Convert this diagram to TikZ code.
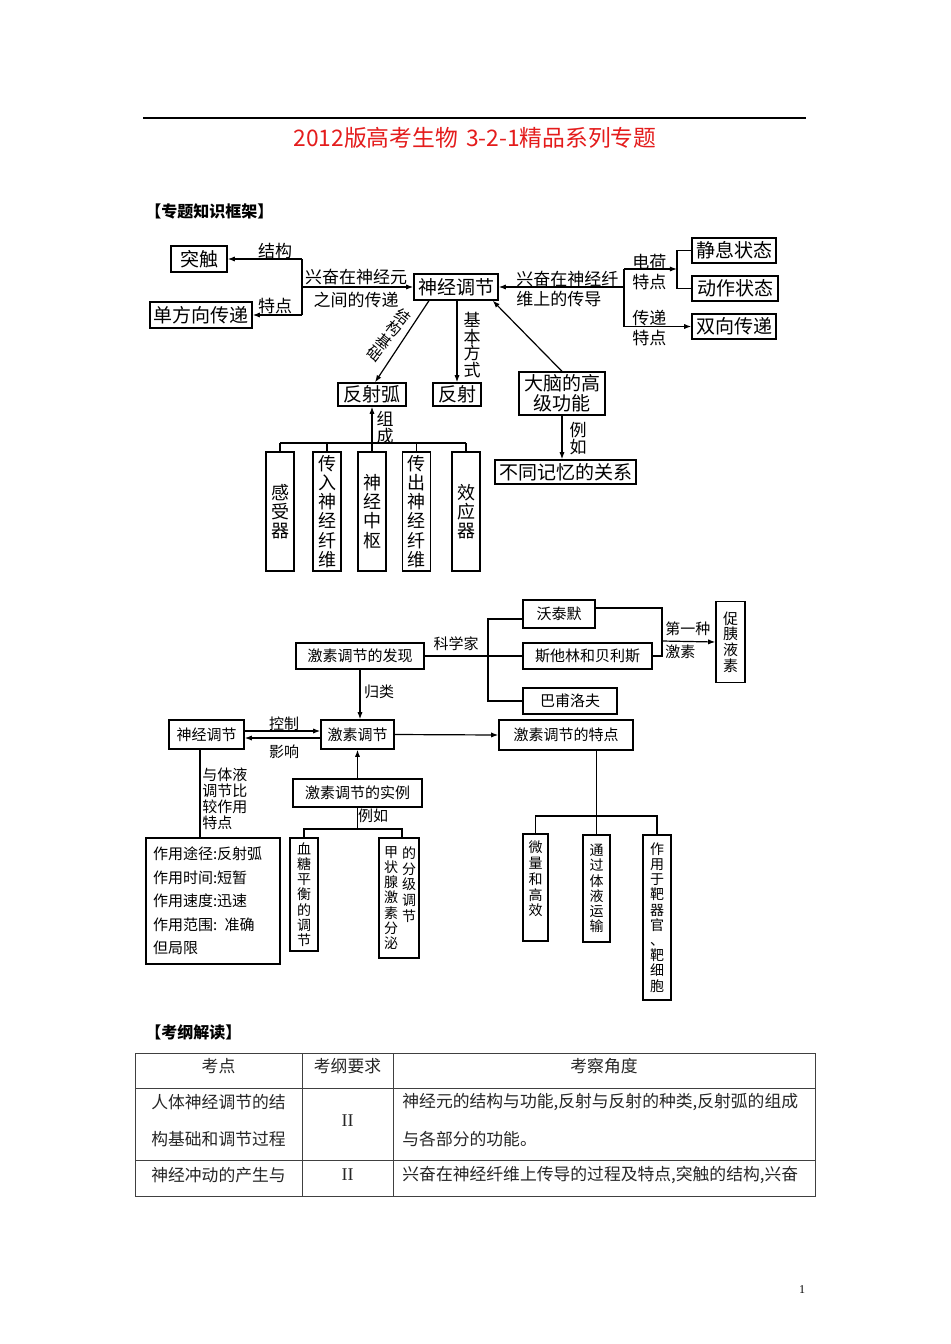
\documentclass[tikz,border=0pt]{standalone}
\usepackage{fontspec}
\setmainfont{Noto Sans CJK SC}
\newfontfamily\enserif{Liberation Serif}
\usetikzlibrary{arrows.meta}
\definecolor{titlered}{RGB}{228,28,28}
\tikzset{
  box/.style={draw, line width=0.65pt, inner sep=0pt, align=center},
  lbl/.style={inner sep=0pt, align=center},
  ln/.style={line width=0.6pt},
  arr/.style={line width=0.6pt, -{Latex[length=3.6pt,width=2.6pt]}},
  fa/.style={font=\fontsize{9.5pt}{10pt}\selectfont},
  fb/.style={font=\fontsize{8.5pt}{10pt}\selectfont},
  fv/.style={font=\fontsize{9pt}{9.6pt}\selectfont},
  fc/.style={font=\fontsize{7.5pt}{8pt}\selectfont},
  fcv/.style={font=\fontsize{7pt}{7.6pt}\selectfont},
  tt/.style={inner sep=0pt, font=\fontsize{8.4pt}{9pt}\selectfont, text=black!85},
  tl/.style={line width=0.5pt, draw=black!75},
}
\begin{document}
\begin{tikzpicture}[x=0.5pt,y=-0.5pt]
\useasboundingbox (0,0) rectangle (950,1344);
\fill[white] (0,0) rectangle (950,1344);

% header
\draw[line width=0.7pt] (143,118) -- (806,118);
\node[lbl, text=titlered, font=\fontsize{11.4pt}{13pt}\selectfont] (title) at (475,138) {2012版高考生物\hspace{0.35em}3-2-1精品系列专题};
\node[lbl, anchor=west, font=\bfseries\fontsize{8pt}{9pt}\selectfont] (head1) at (145,211) {【专题知识框架】};

% ===== top diagram =====
\node[box,fa,minimum width=28pt,minimum height=13pt] (tuchu) at (199,259) {突触};
\node[box,fa,minimum width=51pt,minimum height=13pt] (danfx) at (201,315) {单方向传递};
\node[box,fa,minimum width=42pt,minimum height=13pt] (sjtj) at (456,287) {神经调节};
\node[box,fa,minimum width=42pt,minimum height=12.5pt] (jingxi) at (734,250.5) {静息状态};
\node[box,fa,minimum width=43pt,minimum height=12.5pt] (dongzuo) at (735,288.5) {动作状态};
\node[box,fa,minimum width=42pt,minimum height=12.5pt] (shuangx) at (734,326.5) {双向传递};
\node[box,fa,minimum width=34pt,minimum height=11.5pt] (fsh) at (372,394.5) {反射弧};
\node[box,fa,minimum width=24pt,minimum height=11.5pt] (fs) at (457,394.5) {反射};
\node[box,minimum width=43pt,minimum height=21.5pt,font=\fontsize{9.5pt}{10pt}\selectfont] (danao) at (562,393.5) {大脑的高\\级功能};
\node[box,fa,minimum width=70.5pt,minimum height=12pt] (butong) at (565.5,472) {不同记忆的关系};

\node[box,fv,minimum width=14pt,minimum height=59.5pt] (v1) at (280,511.5) {感\\受\\器};
\node[box,fv,minimum width=14pt,minimum height=59.5pt] (v2) at (327,511.5) {传\\入\\神\\经\\纤\\维};
\node[box,fv,minimum width=14pt,minimum height=59.5pt] (v3) at (372,511.5) {神\\经\\中\\枢};
\node[box,fv,minimum width=14pt,minimum height=59.5pt] (v4) at (416.5,511.5) {传\\出\\神\\经\\纤\\维};
\node[box,fv,minimum width=14pt,minimum height=59.5pt] (v5) at (466,511.5) {效\\应\\器};

% left bracket
\coordinate (jLt) at (302,259);
\coordinate (jLb) at (302,315);
\coordinate (jL) at (302,287);
\draw[ln] (jLt) -- (jLb);
\draw[arr] (jLt) -- (tuchu.east);
\draw[arr] (jLb) -- (danfx.east);
\draw[arr] (jL) -- (sjtj.west);
\node[lbl,fb] (l1) at (275,251) {结构};
\node[lbl,fb] (l2) at (275,306) {特点};
\node[lbl,font=\fontsize{8.5pt}{11.5pt}\selectfont] (l3) at (356,289) {兴奋在神经元\\之间的传递};

% right bracket
\coordinate (jRt) at (624,269);
\coordinate (jRb) at (624,326.5);
\coordinate (jR) at (624,287);
\coordinate (brk) at (677,269);
\draw[ln] (jRt) -- (jRb);
\draw[arr] (jR) -- (sjtj.east);
\draw[arr] (jRt) -- (brk);
\draw[ln] (jingxi.west) -| (brk) |- (dongzuo.west);
\draw[arr] (jRb) -- (shuangx.west);
\node[lbl,fb,align=left,anchor=west] (l4) at (516,289.5) {兴奋在神经纤\\维上的传导};
\node[lbl,fb,align=left,anchor=west] (l5) at (632,272) {电荷\\特点};
\node[lbl,fb,align=left,anchor=west] (l6) at (632,328.5) {传递\\特点};

% downward links
\draw[arr] ([xshift=-13.5pt]sjtj.south) -- ([xshift=1.5pt]fsh.north);
\node[lbl,font=\fontsize{7.5pt}{7.7pt}\selectfont,rotate=-38] (l7) at (389,335) {结\\构\\基\\础};
\draw[arr] (fs.north |- sjtj.south) -- (fs.north);
\node[lbl,font=\fontsize{8.5pt}{8.4pt}\selectfont] (l8) at (472,345) {基\\本\\方\\式};
\draw[arr] (danao.north) -- ([xshift=-3pt]sjtj.south east);
\draw[arr] (danao.south) -- (danao.south |- butong.north);
\node[lbl,font=\fontsize{8.5pt}{8.4pt}\selectfont] (l9) at (578,438.5) {例\\如};

% reflex arc parts
\coordinate (hL) at (280,443);
\coordinate (hR) at (466,443);
\draw[ln] (hL) -- (hR);
\draw[ln] (v1.north) -- (v1.north |- hL);
\draw[ln] (v2.north) -- (v2.north |- hL);
\draw[ln] (v4.north) -- (v4.north |- hL);
\draw[ln] (v5.north) -- (v5.north |- hL);
\draw[arr] (v3.north) -- (fsh.south);
\node[lbl,font=\fontsize{8.5pt}{8.2pt}\selectfont] (l10) at (385,427.5) {组\\成};

% ===== second diagram =====
\node[box,fc,minimum width=64pt,minimum height=13pt] (fx) at (360,656) {激素调节的发现};
\node[box,fc,minimum width=36pt,minimum height=14pt] (wtm) at (559,614) {沃泰默};
\node[box,fc,minimum width=64.5pt,minimum height=13pt] (stl) at (587.5,656) {斯他林和贝利斯};
\node[box,fc,minimum width=47pt,minimum height=13pt] (bfl) at (570,701) {巴甫洛夫};
\node[box,fcv,font=\fontsize{7.5pt}{7.9pt}\selectfont,minimum width=14.5pt,minimum height=40.5pt] (cyy) at (730.5,642) {促\\胰\\液\\素};
\node[box,fc,minimum width=36.5pt,minimum height=14.5pt] (jstj) at (357.5,734.5) {激素调节};
\node[box,fc,minimum width=37.5pt,minimum height=14.5pt] (sj2) at (206.5,734.5) {神经调节};
\node[box,fc,minimum width=67pt,minimum height=15pt] (tedian) at (566,735) {激素调节的特点};
\node[box,fc,minimum width=64.5pt,minimum height=14pt] (shili) at (357.5,793) {激素调节的实例};

\node[box,fcv,minimum width=14pt,minimum height=56.5pt] (xt) at (304,894.5) {血\\糖\\平\\衡\\的\\调\\节};
\node[box,minimum width=20pt,minimum height=60pt] (jzx) at (399,898) {};
\node[lbl,fcv,anchor=north] (jzxL) at (391,846) {甲\\状\\腺\\激\\素\\分\\泌};
\node[lbl,fcv,font=\fontsize{7pt}{7.9pt}\selectfont,anchor=north] (jzxR) at (409,846) {的\\分\\级\\调\\节};
\node[box,minimum width=67pt,minimum height=63pt,align=left,text width=60pt,font=\fontsize{7.5pt}{11.75pt}\selectfont] (bigbox) at (213,901) {作用途径:反射弧\\作用时间:短暂\\作用速度:迅速\\作用范围: 准确\\但局限};

\node[box,minimum width=12.5pt,minimum height=53.5pt] (wl) at (535.5,887.5) {};
\node[lbl,fcv,font=\fontsize{7pt}{7.9pt}\selectfont] (wlt) at (535.5,879) {微\\量\\和\\高\\效};
\node[box,fcv,minimum width=13.5pt,minimum height=53.5pt] (tg) at (596.5,888.5) {通\\过\\体\\液\\运\\输};
\node[box,fcv,minimum width=14pt,minimum height=82.5pt] (zy) at (657,917.5) {作\\用\\于\\靶\\器\\官\\、\\靶\\细\\胞};

% discovery links
\coordinate (kx) at (488,656);
\draw[ln] (fx.east) -- (stl.west);
\draw[ln] ([yshift=-2.5pt]wtm.west) -| (kx) |- (bfl.west);
\node[lbl,fc] (l11) at (456,644) {科学家};
\coordinate (bk) at (662,641);
\draw[ln] ([yshift=3pt]wtm.east) -| (bk) |- (stl.east);
\draw[arr] (bk) -- (cyy.west);
\node[lbl,fc,align=left,anchor=west] (l12) at (665,640.5) {第一种\\[3.5pt]激素};

\draw[arr] (fx.south) -- (fx.south |- jstj.north);
\node[lbl,fc] (l13) at (379,692) {归类};

\draw[arr] ([yshift=1.75pt]sj2.east) -- ([yshift=1.75pt]jstj.west);
\draw[arr] ([yshift=-1.75pt]jstj.west) -- ([yshift=-1.75pt]sj2.east);
\node[lbl,fc] (l14) at (284,724) {控制};
\node[lbl,fc] (l15) at (284,752) {影响};
\draw[arr] (jstj.east) -- (tedian.west);
\draw[arr] (shili.north) -- (jstj.south);

\coordinate (lr) at (357.5,829);
\draw[ln] (shili.south) -- (lr);
\draw[ln] (xt.north) |- (lr);
\draw[ln] ([xshift=1.5pt]jzx.north) |- (lr);
\node[lbl,fc] (l16) at (373,816) {例如};

\draw[ln] ([xshift=-3.25pt]sj2.south) -- ([xshift=-3.25pt]sj2.south |- bigbox.north);
\node[lbl,anchor=north west,align=left,font=\fontsize{7.5pt}{8pt}\selectfont] (l17) at (202,767) {与体液\\调节比\\较作用\\特点};

\coordinate (hz) at (596.5,816);
\draw[ln] (tg.north |- tedian.south) -- (tg.north);
\draw[ln] (wl.north) |- (hz) -| (zy.north);

% ===== exam outline table =====
\node[lbl, anchor=west, font=\bfseries\fontsize{8pt}{9pt}\selectfont] (head2) at (145,1032) {【考纲解读】};
\draw[tl] (135,1053) rectangle (815,1196);
\draw[tl] (135,1088) -- (815,1088);
\draw[tl] (135,1160) -- (815,1160);
\draw[tl] (302,1053) -- (302,1196);
\draw[tl] (393,1053) -- (393,1196);

\node[tt] (t11) at (218.5,1066) {考点};
\node[tt] (t12) at (347.5,1066) {考纲要求};
\node[tt] (t13) at (604,1066) {考察角度};
\node[tt] (t21) at (218.5,1102) {人体神经调节的结};
\node[tt] (t21b) at (218.5,1139) {构基础和调节过程};
\node[tt,font=\enserif\fontsize{9pt}{10pt}\selectfont] (t22) at (347.5,1121) {II};
\node[tt,anchor=west] (t23) at (402,1102) {神经元的结构与功能,反射与反射的种类,反射弧的组成};
\node[tt,anchor=west] (t23b) at (402,1139) {与各部分的功能。};
\node[tt] (t31) at (218.5,1175) {神经冲动的产生与};
\node[tt,font=\enserif\fontsize{9pt}{10pt}\selectfont] (t32) at (347.5,1175) {II};
\node[tt,anchor=west] (t33) at (402,1175) {兴奋在神经纤维上传导的过程及特点,突触的结构,兴奋};

\node[lbl,font=\enserif\fontsize{6pt}{7pt}\selectfont] (pnum) at (802,1290) {1};
\end{tikzpicture}
\end{document}
